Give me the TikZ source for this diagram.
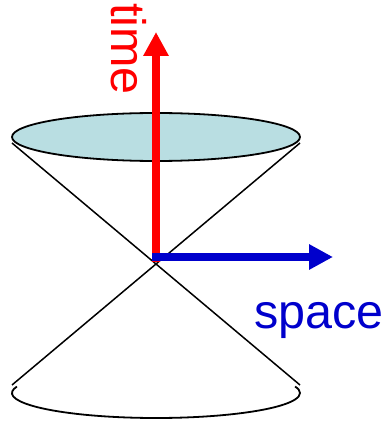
\documentclass[tikz,border=0pt]{standalone}
\usepackage{fontspec}
\setmainfont{Liberation Sans}
\usetikzlibrary{arrows.meta}
\definecolor{sheet}{RGB}{185,222,226}
\definecolor{timered}{RGB}{255,0,0}
\definecolor{spaceblue}{RGB}{0,0,204}
\tikzset{
  cone/.style={black, line width=1.5pt},
  rim/.style={black, line width=1.8pt},
  axis/.style={line width=7.5pt, -{Triangle[width=24pt,length=24pt]}},
  lbl/.style={inner sep=0pt, font=\fontsize{48.5}{52}\selectfont}
}
\begin{document}
\begin{tikzpicture}[x=1pt,y=1pt]
\useasboundingbox (0,0) rectangle (387,421);
% cone lines
\coordinate (tl) at (12,278);
\coordinate (tr) at (300,278);
\coordinate (bl) at (12,36);
\coordinate (br) at (300,36);
\draw[cone] (tl) -- (br);
\draw[cone] (tr) -- (bl);
% top ellipse
\coordinate (c) at (156,284);
\filldraw[rim, fill=sheet] (c) ellipse[x radius=144, y radius=24];
% bottom arc
\coordinate (bc) at (156,28);
\draw[rim] ([shift={(165:144 and 25)}]bc) arc[start angle=165, end angle=375, x radius=144, y radius=25];
% axes
\coordinate (o) at (156,159);
\coordinate (tt) at (156,389);
\coordinate (o2) at (152,164);
\coordinate (st) at (333,164);
\draw[axis, timered] (o) -- (tt);
\draw[axis, spaceblue] (o2) -- (st);
% labels
\node[lbl, text=timered, rotate=-90, anchor=base west] (time) at (111,418) {time};
\node[lbl, text=spaceblue, anchor=base west] (space) at (254,92) {space};
\end{tikzpicture}
\end{document}
